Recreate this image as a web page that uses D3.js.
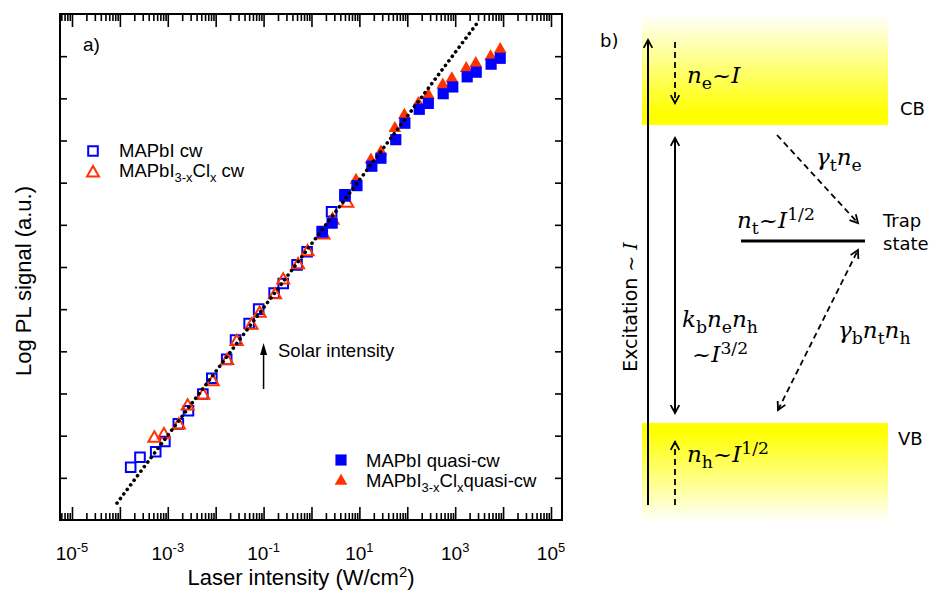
<!DOCTYPE html>
<html><head><meta charset="utf-8">
<script src="https://cdn.jsdelivr.net/npm/d3@7"></script>
<style>body{margin:0;background:#fff}svg{display:block}</style>
</head><body><svg id="c" width="933" height="591"></svg>
<script>
// ---------- data (intensity in W/cm^2, log10 PL signal a.u.) ----------
const cwMAPbI_I   = [1.68e-4,2.63e-4,5.6e-4,8.7e-4,1.66e-3,2.7e-3,5.4e-3,8.3e-3,0.017,0.026,0.050,0.079,0.166,0.257,0.50,0.81,1.68,2.63,5.0];
const cwMAPbI_PL  = [1.25,1.49,1.62,1.86,2.28,2.59,2.99,3.36,3.81,4.27,4.66,5.00,5.38,5.61,6.05,6.36,6.84,7.31,7.71];
const cwMixed_I   = [5.25e-4,8.3e-4,1.7e-3,2.6e-3,5.5e-3,8.7e-3,0.0174,0.0275,0.056,0.083,0.174,0.257,0.525,0.83,1.78,2.75,5.6];
const cwMixed_PL  = [1.94,2.02,2.25,2.70,2.96,3.28,3.78,4.23,4.62,4.90,5.34,5.69,6.05,6.36,6.76,7.11,7.51];
const qcwMAPbI_I  = [1.68,2.7,5.0,8.9,18.2,28.2,57.5,89,178,275,562,891,1780,2750,5620,8710];
const qcwMAPbI_PL = [6.83,7.04,7.68,7.93,8.39,8.58,9.02,9.41,9.74,9.88,10.11,10.27,10.51,10.62,10.81,10.95];
const qcwMixed_I  = [8.5,17.4,28.2,55,87,170,275,550,851,1700,2690,5500,8710];
const qcwMixed_PL = [8.06,8.54,8.73,9.29,9.60,9.88,10.08,10.32,10.47,10.71,10.83,10.99,11.16];
const fitI  = [8.7e-5, 3.0e3];
const fitPL = [0.40, 11.81];
const xLabelExps = [-5,-3,-1,1,3,5];
const yTicks = [1,2,3,4,5,6,7,8,9,10,11];
const solarI = 0.1;

// ---------- setup ----------
const svg = d3.select('#c');
const P = {l:60, r:562, t:14, b:520};
const x = d3.scaleLog().domain([Math.pow(10,-5.25), Math.pow(10,5.23)]).range([P.l,P.r]);
const y = d3.scaleLinear().domain([0,12]).range([P.b,P.t]);
const BLUE = '#0000ff', RED = '#ff3300';
const SANS = 'Liberation Sans, Arial, sans-serif';
const DSANS = 'DejaVu Sans, Verdana, sans-serif';
const SERIF = 'DejaVu Serif, serif';

function rich(sel, xx, yy, parts, size, family, anchor){
  const t = sel.append('text').attr('x',xx).attr('y',yy)
    .attr('font-size',size).attr('font-family',family).attr('text-anchor',anchor||'start').attr('fill','#000');
  let cur = 0;
  parts.forEach(p=>{
    const off = p.sub ? size*0.28 : p.sup ? -size*(p.rise||0.42) : 0;
    const ts = t.append('tspan').attr('dy', off-cur).text(p.t);
    cur = off;
    if (p.sub||p.sup) ts.attr('font-size', size*(p.scale||0.7));
    if (p.i) ts.attr('font-style','italic');
    if (p.f) ts.attr('font-family',p.f);
  });
  return t;
}

// ---------- axes ----------
const decades = d3.range(-5,6).map(e=>Math.pow(10,e));
const minors = [];
for (let e=-6;e<=5;e++) for (let m=2;m<=9;m++){ const v=m*Math.pow(10,e); const px=x(v); if(px>P.l+0.5 && px<P.r-0.5) minors.push(v); }

function styleAxis(g){ g.select('.domain').remove(); g.selectAll('line').attr('stroke','#000').attr('stroke-width',1.6); g.selectAll('text').remove(); }
svg.append('g').attr('transform',`translate(0,${P.b})`).call(d3.axisBottom(x).tickValues(decades).tickSize(-13).tickFormat('')).call(styleAxis);
svg.append('g').attr('transform',`translate(0,${P.b})`).call(d3.axisBottom(x).tickValues(minors).tickSize(-7).tickFormat('')).call(styleAxis);
svg.append('g').attr('transform',`translate(0,${P.t})`).call(d3.axisTop(x).tickValues(decades).tickSize(-13).tickFormat('')).call(styleAxis);
svg.append('g').attr('transform',`translate(0,${P.t})`).call(d3.axisTop(x).tickValues(minors).tickSize(-7).tickFormat('')).call(styleAxis);
svg.append('g').attr('transform',`translate(${P.l},0)`).call(d3.axisLeft(y).tickValues(yTicks).tickSize(-7).tickFormat('')).call(styleAxis);
svg.append('g').attr('transform',`translate(${P.r},0)`).call(d3.axisRight(y).tickValues(yTicks).tickSize(-7).tickFormat('')).call(styleAxis);

const lab = svg.append('g');
xLabelExps.forEach(e=>{
  rich(lab, x(Math.pow(10,e)), 560, [{t:'10'},{t:String(e<0?'-'+(-e):e),sup:true,scale:0.68}], 19, SANS, 'middle');
});
rich(svg, 301, 585, [{t:'Laser intensity (W/cm'},{t:'2',sup:true,scale:0.68,rise:0.38},{t:')'}], 22, SANS, 'middle');
svg.append('text').attr('transform','translate(31,281) rotate(-90)').attr('text-anchor','middle')
  .attr('font-family',SANS).attr('font-size',22).text('Log PL signal (a.u.)');

// ---------- markers ----------
const sq = d3.symbol().type(d3.symbolSquare);
const tri = d3.symbol().type(d3.symbolTriangle);
const plot = svg.append('g');
function pts(I, PL){ return I.map((v,i)=>[v,PL[i]]); }
plot.selectAll('.os').data(pts(cwMAPbI_I,cwMAPbI_PL)).join('path')
  .attr('d',sq.size(92)()).attr('transform',d=>`translate(${x(d[0])},${y(d[1])})`)
  .attr('fill','none').attr('stroke',BLUE).attr('stroke-width',2);
plot.selectAll('.ot').data(pts(cwMixed_I,cwMixed_PL)).join('path')
  .attr('d',tri.size(62)()).attr('transform',d=>`translate(${x(d[0])},${y(d[1])})`)
  .attr('fill','none').attr('stroke',RED).attr('stroke-width',2);
plot.selectAll('.ft').data(pts(qcwMixed_I,qcwMixed_PL)).join('path')
  .attr('d',tri.size(70)()).attr('transform',d=>`translate(${x(d[0])},${y(d[1])})`)
  .attr('fill',RED);
plot.selectAll('.fs').data(pts(qcwMAPbI_I,qcwMAPbI_PL)).join('path')
  .attr('d',sq.size(125)()).attr('transform',d=>`translate(${x(d[0])},${y(d[1])})`)
  .attr('fill',BLUE);

// fit line
svg.append('path').datum(pts(fitI,fitPL))
  .attr('d',d3.line().x(d=>x(d[0])).y(d=>y(d[1])))
  .attr('stroke','#000').attr('stroke-width',3.6).attr('stroke-linecap','round')
  .attr('stroke-dasharray','0.1 5.6').attr('fill','none');

// frame
svg.append('rect').attr('x',P.l).attr('y',P.t).attr('width',P.r-P.l).attr('height',P.b-P.t)
  .attr('fill','none').attr('stroke','#000').attr('stroke-width',2);

// labels
svg.append('text').attr('x',83).attr('y',51).attr('font-family',SANS).attr('font-size',19).text('a)');
// solar arrow
const sx = x(solarI);
svg.append('line').attr('x1',sx).attr('x2',sx).attr('y1',389).attr('y2',352).attr('stroke','#000').attr('stroke-width',1.5);
svg.append('path').attr('d',`M${sx},343 L${sx-3.5},355 L${sx+3.5},355 Z`).attr('fill','#000');
svg.append('text').attr('x',278).attr('y',357).attr('font-family',SANS).attr('font-size',18.5).text('Solar intensity');

// legends
const lg = svg.append('g');
lg.append('path').attr('d',sq.size(92)()).attr('transform','translate(93,151)').attr('fill','none').attr('stroke',BLUE).attr('stroke-width',2);
rich(lg,119,157,[{t:'MAPbI cw'}],18.5,SANS);
lg.append('path').attr('d',tri.size(62)()).attr('transform','translate(93,173)').attr('fill','none').attr('stroke',RED).attr('stroke-width',2);
rich(lg,119,177,[{t:'MAPbI'},{t:'3-x',sub:true},{t:'Cl'},{t:'x',sub:true},{t:' cw'}],18.5,SANS);
lg.append('path').attr('d',sq.size(125)()).attr('transform','translate(341,460)').attr('fill',BLUE);
rich(lg,366,467,[{t:'MAPbI quasi-cw'}],18.5,SANS);
lg.append('path').attr('d',tri.size(70)()).attr('transform','translate(341,481)').attr('fill',RED);
rich(lg,366,487,[{t:'MAPbI'},{t:'3-x',sub:true},{t:'Cl'},{t:'x',sub:true},{t:'quasi-cw'}],18.5,SANS);

// ---------- panel b ----------
const defs = svg.append('defs');
const g1 = defs.append('linearGradient').attr('id','cbg').attr('x1',0).attr('y1',0).attr('x2',0).attr('y2',1);
g1.append('stop').attr('offset',0).attr('stop-color','#ffffff');
g1.append('stop').attr('offset',0.9).attr('stop-color','#ffff00');
g1.append('stop').attr('offset',1).attr('stop-color','#ffff00');
const g2 = defs.append('linearGradient').attr('id','vbg').attr('x1',0).attr('y1',0).attr('x2',0).attr('y2',1);
g2.append('stop').attr('offset',0).attr('stop-color','#ffff00');
g2.append('stop').attr('offset',0.08).attr('stop-color','#ffff00');
g2.append('stop').attr('offset',1).attr('stop-color','#ffffff');
const b = svg.append('g');
b.append('rect').attr('x',642).attr('y',14).attr('width',246).attr('height',111).attr('fill','url(#cbg)');
b.append('rect').attr('x',642).attr('y',423).attr('width',246).attr('height',100).attr('fill','url(#vbg)');

function chevron(xx,yy,ang){
  const L=9,a=0.5;
  const p1=[xx-L*Math.cos(ang-a), yy-L*Math.sin(ang-a)];
  const p2=[xx-L*Math.cos(ang+a), yy-L*Math.sin(ang+a)];
  b.append('path').attr('d',`M${p1} L${xx},${yy} L${p2}`).attr('fill','none').attr('stroke','#000').attr('stroke-width',1.8);
}
function arrow(x1,y1,x2,y2,opt){
  const l=b.append('line').attr('x1',x1).attr('y1',y1).attr('x2',x2).attr('y2',y2).attr('stroke','#000').attr('stroke-width',opt.w||1.8);
  if(opt.dash) l.attr('stroke-dasharray','6 4');
  const ang=Math.atan2(y2-y1,x2-x1);
  if(opt.end) chevron(x2,y2,ang);
  if(opt.start) chevron(x1,y1,ang+Math.PI);
}
arrow(648,505,648,40,{end:true,w:2});
arrow(675,42,675,103,{end:true,dash:true});
arrow(675,138,675,413,{end:true,start:true,w:2});
arrow(777,135,858,223,{end:true,dash:true});
arrow(778,410,858,250,{end:true,start:true,dash:true});
arrow(675,505,675,442,{end:true,dash:true});
b.append('line').attr('x1',741).attr('x2',865).attr('y1',241).attr('y2',241).attr('stroke','#000').attr('stroke-width',3);

b.append('text').attr('x',600).attr('y',47).attr('font-family',DSANS).attr('font-size',18).text('b)');
b.append('text').attr('x',900).attr('y',115).attr('font-family',DSANS).attr('font-size',18).text('CB');
b.append('text').attr('x',898).attr('y',445).attr('font-family',DSANS).attr('font-size',18).text('VB');
b.append('text').attr('x',883).attr('y',227).attr('font-family',DSANS).attr('font-size',18).text('Trap');
b.append('text').attr('x',883).attr('y',250).attr('font-family',DSANS).attr('font-size',18).text('state');
const exc = b.append('g').attr('transform','translate(637,307) rotate(-90)');
rich(exc,0,0,[{t:'Excitation ',f:DSANS},{t:'~ ',f:SERIF},{t:'I',i:true,f:SERIF}],19,DSANS,'middle');

const MS = 23;
rich(b,687,83,[{t:'n',i:true},{t:'e',sub:true,scale:0.75},{t:'~'},{t:'I',i:true}],MS,SERIF);
rich(b,816,165,[{t:'γ',i:true},{t:'t',sub:true,scale:0.75},{t:'n',i:true},{t:'e',sub:true,scale:0.75}],MS,SERIF);
rich(b,737,228,[{t:'n',i:true},{t:'t',sub:true,scale:0.75},{t:'~'},{t:'I',i:true},{t:'1/2',sup:true,scale:0.75,rise:0.36}],MS,SERIF);
rich(b,682,327,[{t:'k',i:true},{t:'b',sub:true,scale:0.75},{t:'n',i:true},{t:'e',sub:true,scale:0.75},{t:'n',i:true},{t:'h',sub:true,scale:0.75}],MS,SERIF);
rich(b,692,362,[{t:'~'},{t:'I',i:true},{t:'3/2',sup:true,scale:0.75,rise:0.33}],MS,SERIF);
rich(b,838,338,[{t:'γ',i:true},{t:'b',sub:true,scale:0.75},{t:'n',i:true},{t:'t',sub:true,scale:0.75},{t:'n',i:true},{t:'h',sub:true,scale:0.75}],MS,SERIF);
rich(b,687,462,[{t:'n',i:true},{t:'h',sub:true,scale:0.75},{t:'~'},{t:'I',i:true},{t:'1/2',sup:true,scale:0.75,rise:0.36}],MS,SERIF);
</script></body></html>
